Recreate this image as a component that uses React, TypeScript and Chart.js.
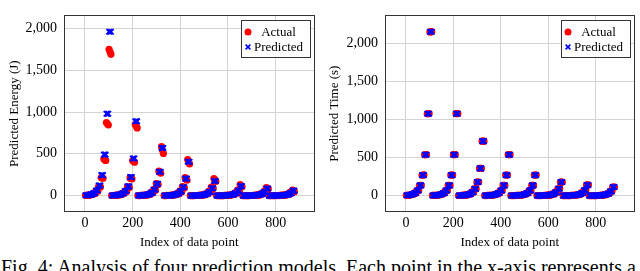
import React, { useEffect, useRef } from "react";
import { Chart, registerables } from "chart.js";

Chart.register(...registerables);

// Data points are sampled in 8 groups of 110 indices, each group made of 10 blocks.
const groupStarts = [0, 110, 220, 330, 440, 550, 660, 770];
const blockOffsets = [
  2, 6, 10, 13, 17, 21, 24, 28, 32, 35, 39, 43, 46, 50, 54,
  57, 61, 65, 68, 72, 76, 79, 83, 87, 90, 94, 98, 101, 105, 109,
];

const energyActual = [
  3.4, 3.4, 3.3, 6.8, 6.7, 6.6, 13.5, 13.4, 13.2, 27, 26.8, 26.4, 54, 53, 52, 108, 106, 104, 216, 212, 208, 440, 430, 420, 875, 860, 845, 1750, 1720, 1690,
  1.6, 1.6, 1.5, 3.2, 3.1, 3.0, 6.5, 6.3, 6.1, 13, 12.6, 12.2, 26, 25, 24, 52, 50, 48, 104, 101, 98, 212, 206, 200, 420, 410, 400, 850, 830, 810,
  1.1, 1.05, 1.0, 2.2, 2.1, 2.0, 4.4, 4.2, 4.0, 8.8, 8.4, 8.0, 17.5, 16.8, 16, 35, 33.5, 32, 72, 68, 64, 145, 140, 133, 292, 280, 268, 585, 545, 505,
  0.85, 0.8, 0.75, 1.7, 1.6, 1.5, 3.4, 3.2, 3.0, 6.8, 6.4, 6.0, 13.5, 12.7, 11.8, 27, 25, 23, 54, 50, 46, 108, 100, 92, 215, 200, 185, 430, 405, 378,
  0.4, 0.37, 0.34, 0.8, 0.74, 0.68, 1.6, 1.5, 1.35, 3.2, 2.9, 2.7, 6.4, 5.9, 5.4, 12.8, 11.8, 10.8, 25, 23.5, 21.5, 51, 47, 43, 102, 94, 86, 205, 188, 170,
  0.26, 0.24, 0.21, 0.52, 0.47, 0.42, 1.05, 0.95, 0.85, 2.1, 1.9, 1.7, 4.2, 3.8, 3.4, 8.2, 7.5, 6.8, 16.5, 15, 13.5, 33, 30, 27, 66, 60, 53, 132, 118, 105,
  0.19, 0.18, 0.16, 0.38, 0.35, 0.32, 0.75, 0.7, 0.64, 1.5, 1.4, 1.3, 3.0, 2.8, 2.6, 6.0, 5.6, 5.2, 12, 11, 10, 24, 22, 20.5, 48, 44, 41, 96, 88, 80,
  0.15, 0.14, 0.12, 0.3, 0.27, 0.24, 0.6, 0.55, 0.48, 1.2, 1.1, 0.95, 2.4, 2.2, 1.9, 4.8, 4.4, 3.8, 9.6, 8.8, 7.6, 19, 17.5, 15, 38, 35, 30, 66, 58, 46,
];

const energyPredicted = [
  3.8, 3.8, 3.8, 7.7, 7.7, 7.7, 15.3, 15.3, 15.3, 30.6, 30.6, 30.6, 61, 61, 61, 122, 122, 122, 245, 245, 245, 490, 490, 490, 980, 980, 980, 1960, 1960, 1960,
  1.7, 1.7, 1.7, 3.5, 3.5, 3.5, 7, 7, 7, 14, 14, 14, 28, 28, 28, 56, 56, 56, 111, 111, 111, 222, 222, 222, 445, 445, 445, 890, 890, 890,
  1.1, 1.1, 1.1, 2.2, 2.2, 2.2, 4.5, 4.5, 4.5, 9, 9, 9, 18, 18, 18, 36, 36, 36, 71, 71, 71, 142, 142, 142, 285, 285, 285, 570, 570, 570,
  0.8, 0.8, 0.8, 1.6, 1.6, 1.6, 3.2, 3.2, 3.2, 6.3, 6.3, 6.3, 12.7, 12.7, 12.7, 25, 25, 25, 51, 51, 51, 101, 101, 101, 203, 203, 203, 405, 405, 405,
  0.35, 0.35, 0.35, 0.7, 0.7, 0.7, 1.4, 1.4, 1.4, 2.8, 2.8, 2.8, 5.5, 5.5, 5.5, 11, 11, 11, 22, 22, 22, 44, 44, 44, 88, 88, 88, 175, 175, 175,
  0.23, 0.23, 0.23, 0.45, 0.45, 0.45, 0.9, 0.9, 0.9, 1.8, 1.8, 1.8, 3.6, 3.6, 3.6, 7.2, 7.2, 7.2, 14.4, 14.4, 14.4, 29, 29, 29, 57, 57, 57, 115, 115, 115,
  0.17, 0.17, 0.17, 0.33, 0.33, 0.33, 0.66, 0.66, 0.66, 1.3, 1.3, 1.3, 2.65, 2.65, 2.65, 5.3, 5.3, 5.3, 10.6, 10.6, 10.6, 21, 21, 21, 42.5, 42.5, 42.5, 85, 85, 85,
  0.12, 0.12, 0.12, 0.23, 0.23, 0.23, 0.47, 0.47, 0.47, 0.94, 0.94, 0.94, 1.9, 1.9, 1.9, 3.8, 3.8, 3.8, 7.5, 7.5, 7.5, 15, 15, 15, 30, 30, 30, 60, 60, 60,
];

const timeActual = [
  4.1, 4.2, 4.3, 8.3, 8.4, 8.5, 16.6, 16.8, 17, 33, 33.6, 34, 66, 67, 68, 133, 134, 135, 267, 269, 271, 535, 537, 539, 1073, 1075, 1077, 2148, 2150, 2152,
  2.1, 2.1, 2.1, 4.2, 4.2, 4.2, 8.4, 8.4, 8.4, 17, 17, 17, 34, 34, 34, 67, 67, 67, 134, 134, 134, 269, 269, 269, 537, 537, 537, 1075, 1075, 1075,
  1.4, 1.4, 1.4, 2.8, 2.8, 2.8, 5.6, 5.6, 5.6, 11, 11, 11, 22, 22, 22, 45, 45, 45, 89, 89, 89, 179, 179, 179, 357, 357, 357, 715, 715, 715,
  1.05, 1.05, 1.05, 2.1, 2.1, 2.1, 4.2, 4.2, 4.2, 8.4, 8.4, 8.4, 17, 17, 17, 34, 34, 34, 67, 67, 67, 134, 134, 134, 269, 269, 269, 537, 537, 537,
  0.5, 0.5, 0.5, 1.05, 1.05, 1.05, 2.1, 2.1, 2.1, 4.2, 4.2, 4.2, 8.4, 8.4, 8.4, 17, 17, 17, 34, 34, 34, 67, 67, 67, 134, 134, 134, 269, 269, 269,
  0.35, 0.35, 0.35, 0.7, 0.7, 0.7, 1.4, 1.4, 1.4, 2.8, 2.8, 2.8, 5.6, 5.6, 5.6, 11, 11, 11, 22, 22, 22, 45, 45, 45, 89, 89, 89, 178, 178, 178,
  0.27, 0.27, 0.27, 0.55, 0.55, 0.55, 1.1, 1.1, 1.1, 2.2, 2.2, 2.2, 4.4, 4.4, 4.4, 8.8, 8.8, 8.8, 17.5, 17.5, 17.5, 35, 35, 35, 70, 70, 70, 140, 140, 140,
  0.22, 0.22, 0.22, 0.44, 0.44, 0.44, 0.88, 0.88, 0.88, 1.75, 1.75, 1.75, 3.5, 3.5, 3.5, 7, 7, 7, 14, 14, 14, 28, 28, 28, 56, 56, 56, 112, 112, 112,
];

const timePredicted = [
  4.2, 4.2, 4.2, 8.4, 8.4, 8.4, 16.8, 16.8, 16.8, 33.6, 33.6, 33.6, 67, 67, 67, 134, 134, 134, 269, 269, 269, 537, 537, 537, 1075, 1075, 1075, 2150, 2150, 2150,
  2.1, 2.1, 2.1, 4.2, 4.2, 4.2, 8.4, 8.4, 8.4, 17, 17, 17, 34, 34, 34, 67, 67, 67, 134, 134, 134, 269, 269, 269, 537, 537, 537, 1075, 1075, 1075,
  1.4, 1.4, 1.4, 2.8, 2.8, 2.8, 5.6, 5.6, 5.6, 11, 11, 11, 22, 22, 22, 45, 45, 45, 89, 89, 89, 179, 179, 179, 357, 357, 357, 715, 715, 715,
  1.05, 1.05, 1.05, 2.1, 2.1, 2.1, 4.2, 4.2, 4.2, 8.4, 8.4, 8.4, 17, 17, 17, 34, 34, 34, 67, 67, 67, 134, 134, 134, 269, 269, 269, 537, 537, 537,
  0.5, 0.5, 0.5, 1.05, 1.05, 1.05, 2.1, 2.1, 2.1, 4.2, 4.2, 4.2, 8.4, 8.4, 8.4, 17, 17, 17, 34, 34, 34, 67, 67, 67, 134, 134, 134, 269, 269, 269,
  0.35, 0.35, 0.35, 0.7, 0.7, 0.7, 1.4, 1.4, 1.4, 2.8, 2.8, 2.8, 5.6, 5.6, 5.6, 11, 11, 11, 22, 22, 22, 45, 45, 45, 89, 89, 89, 178, 178, 178,
  0.27, 0.27, 0.27, 0.55, 0.55, 0.55, 1.1, 1.1, 1.1, 2.2, 2.2, 2.2, 4.4, 4.4, 4.4, 8.8, 8.8, 8.8, 17.5, 17.5, 17.5, 35, 35, 35, 70, 70, 70, 140, 140, 140,
  0.22, 0.22, 0.22, 0.44, 0.44, 0.44, 0.88, 0.88, 0.88, 1.75, 1.75, 1.75, 3.5, 3.5, 3.5, 7, 7, 7, 14, 14, 14, 28, 28, 28, 56, 56, 56, 112, 112, 112,
];

const xTicks = [0, 200, 400, 600, 800];
const yTicks = [0, 500, 1000, 1500, 2000];
const seriesLabels = ["Actual", "Predicted"];
const captionText =
  "Fig. 4: Analysis of four prediction models. Each point in the x-axis represents a test configuration";

const pointIndex = groupStarts.flatMap((s) => blockOffsets.map((o) => s + o));

const FONT = '"Liberation Serif", "Times New Roman", serif';

function withCommas(v: number): string {
  const s = String(Math.round(Math.abs(v)));
  const out = s.replace(/\B(?=(\d{3})+(?!\d))/g, ",");
  return v < 0 ? "-" + out : out;
}

const framePlugin = {
  id: "pgfFrame",
  afterDraw(chart: any) {
    const { ctx, chartArea: a } = chart;
    ctx.save();
    ctx.strokeStyle = "#333333";
    ctx.lineWidth = 1;
    const l = Math.round(a.left) + 0.5;
    const t = Math.round(a.top) + 0.5;
    const r = Math.round(a.right) - 0.5;
    const b = Math.round(a.bottom) - 0.5;
    ctx.strokeRect(l, t, r - l, b - t);

    // legend box
    const bw = 69;
    const bh = 37;
    const bx = Math.round(a.right - 5 - bw) + 0.5;
    const by = Math.round(a.top + 5) + 0.5;
    ctx.fillStyle = "#ffffff";
    ctx.fillRect(bx, by, bw, bh);
    ctx.strokeRect(bx, by, bw, bh);

    const mx = bx + 6.5;
    const y1 = by + 11.5;
    const y2 = by + 26.5;
    ctx.fillStyle = "#ff0000";
    ctx.beginPath();
    ctx.arc(mx, y1, 3.5, 0, Math.PI * 2);
    ctx.fill();

    ctx.strokeStyle = "#0000ff";
    ctx.lineWidth = 1.6;
    const h = 2.4;
    ctx.beginPath();
    ctx.moveTo(mx - h, y2 - h);
    ctx.lineTo(mx + h, y2 + h);
    ctx.moveTo(mx - h, y2 + h);
    ctx.lineTo(mx + h, y2 - h);
    ctx.stroke();

    const labels = chart.data.datasets.map((d: any) => d.label);
    ctx.fillStyle = "#000000";
    ctx.font = `13px ${FONT}`;
    ctx.textAlign = "center";
    ctx.textBaseline = "middle";
    ctx.fillText(labels[0], bx + 37, y1 + 0.5);
    ctx.fillText(labels[1], bx + 37, y2 + 0.5);
    ctx.restore();
  },
};

type PanelProps = {
  yLabel: string;
  actual: number[];
  predicted: number[];
  yMin: number;
  yMax: number;
  left: number;
  yWidth: number;
};

function Panel({ yLabel, actual, predicted, yMin, yMax, left, yWidth }: PanelProps) {
  const ref = useRef<HTMLCanvasElement>(null);
  useEffect(() => {
    const canvas = ref.current;
    if (!canvas) return;
    const tickFont = { family: FONT, size: 14 };
    const titleFont = { family: FONT, size: 13 };
    const chart = new Chart(canvas, {
      type: "scatter",
      data: {
        datasets: [
          {
            label: seriesLabels[0],
            data: pointIndex.map((x, i) => ({ x, y: actual[i] })),
            pointStyle: "circle",
            pointRadius: 3.6,
            pointHoverRadius: 3.6,
            backgroundColor: "#ff0000",
            borderColor: "#ff0000",
            borderWidth: 0,
            order: 2,
          },
          {
            label: seriesLabels[1],
            data: pointIndex.map((x, i) => ({ x, y: predicted[i] })),
            pointStyle: "crossRot",
            pointRadius: 3.8,
            pointHoverRadius: 3.8,
            backgroundColor: "#0000ff",
            borderColor: "#0000ff",
            borderWidth: 1.7,
            order: 1,
          },
        ],
      },
      options: {
        responsive: false,
        animation: false,
        devicePixelRatio: 1,
        events: [],
        layout: { padding: { left: 0, right: 4, top: 2, bottom: 0 } },
        plugins: { legend: { display: false }, tooltip: { enabled: false } },
        scales: {
          x: {
            type: "linear",
            min: -88,
            max: 963,
            afterBuildTicks: (s: any) => {
              s.ticks = xTicks.map((v) => ({ value: v }));
            },
            afterFit: (s: any) => {
              s.height = 38;
            },
            grid: { color: "#d4d4d4", drawTicks: false, lineWidth: 1 },
            border: { display: false },
            ticks: {
              autoSkip: false,
              maxRotation: 0,
              padding: 3,
              color: "#000000",
              font: tickFont,
              callback: (v: any) => withCommas(Number(v)),
            },
            title: {
              display: true,
              text: "Index of data point",
              color: "#000000",
              font: titleFont,
              padding: { top: 3, bottom: 0 },
            },
          },
          y: {
            type: "linear",
            min: yMin,
            max: yMax,
            afterBuildTicks: (s: any) => {
              s.ticks = yTicks.map((v) => ({ value: v }));
            },
            afterFit: (s: any) => {
              s.width = yWidth;
            },
            grid: { color: "#d4d4d4", drawTicks: false, lineWidth: 1 },
            border: { display: false },
            ticks: {
              autoSkip: false,
              padding: 7,
              color: "#000000",
              font: tickFont,
              callback: (v: any) => withCommas(Number(v)),
            },
            title: {
              display: true,
              text: yLabel,
              color: "#000000",
              font: titleFont,
              padding: { top: 7, bottom: 0 },
            },
          },
        },
      },
      plugins: [framePlugin],
    } as any);
    return () => chart.destroy();
  }, [yLabel, actual, predicted, yMin, yMax, yWidth]);
  return (
    <canvas
      ref={ref}
      width={320}
      height={250}
      style={{ position: "absolute", left, top: 0, width: 320, height: 250 }}
    />
  );
}

export default function App() {
  return (
    <div
      style={{
        position: "fixed",
        left: 0,
        top: 0,
        width: 640,
        height: 271,
        overflow: "hidden",
        background: "#ffffff",
      }}
    >
      <Panel
        yLabel="Predicted Energy (J)"
        actual={energyActual}
        predicted={energyPredicted}
        yMin={-196}
        yMax={2156}
        left={0}
        yWidth={64}
      />
      <Panel
        yLabel="Predicted Time (s)"
        actual={timeActual}
        predicted={timePredicted}
        yMin={-215}
        yMax={2365}
        left={320}
        yWidth={65}
      />
      <div
        style={{
          position: "absolute",
          left: 1,
          top: 257,
          fontFamily: FONT,
          fontSize: 20,
          lineHeight: "20px",
          whiteSpace: "nowrap",
          color: "#000000",
        }}
      >
        {captionText}
      </div>
    </div>
  );
}
